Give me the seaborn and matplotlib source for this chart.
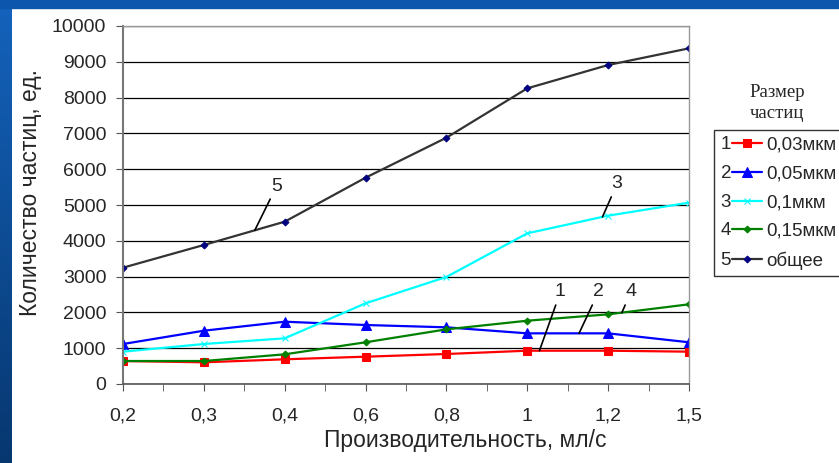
import numpy as np
import pandas as pd
import seaborn as sns
import matplotlib
matplotlib.use('Agg')
import matplotlib.pyplot as plt
from matplotlib.legend_handler import HandlerLine2D
from matplotlib.text import Text
from matplotlib.patches import Rectangle

# данные
categories = ['0,2', '0,3', '0,4', '0,6', '0,8', '1', '1,2', '1,5']
s1 = [642, 606, 690, 763, 838, 930, 930, 903]          # 0,03мкм
s2 = [1117, 1489, 1740, 1648, 1583, 1415, 1415, 1165]  # 0,05мкм
s3 = [903, 1117, 1276, 2254, 2990, 4209, 4702, 5065]   # 0,1мкм
s4 = [642, 642, 829, 1165, 1527, 1768, 1946, 2226]     # 0,15мкм
s5 = [3249, 3883, 4534, 5763, 6880, 8259, 8910, 9376]  # общее
labels = ['0,03мкм', '0,05мкм', '0,1мкм', '0,15мкм', 'общее']

sns.set_style('white')
plt.rcParams['font.family'] = ['Liberation Sans', 'DejaVu Sans']

pos = np.arange(len(categories))
df = pd.DataFrame({'pos': pos, 's1': s1, 's2': s2, 's3': s3, 's4': s4, 's5': s5})

fig = plt.figure(figsize=(8.39, 4.63), dpi=100)
ax = fig.add_axes([123 / 839, 1 - 384 / 463, (689 - 123) / 839, (384 - 26) / 463])

# синяя рамка слайда
fig.patches.append(Rectangle((0, 1 - 8 / 463), 1, 8 / 463, transform=fig.transFigure,
                             color='#0c56ad', zorder=0))
bg = fig.add_axes([0, 0, 12 / 839, 1 - 8 / 463])
grad = np.linspace(0, 1, 100).reshape(-1, 1)
bg.imshow(grad, aspect='auto', cmap=matplotlib.colors.LinearSegmentedColormap.from_list(
    'b', ['#1462bb', '#07376f']), extent=[0, 1, 0, 1])
bg.axis('off')

styles = [
    ('s1', '#ff0000', 's', 6),
    ('s2', '#0000ff', '^', 6.5),
    ('s3', '#00ffff', 'x', 4),
    ('s4', '#008000', 'D', 3.5),
    ('s5', '#333333', 'D', 3.5),
]
for (col, color, mk, ms), lab in zip(styles, labels):
    mfc = '#000080' if col == 's5' else color
    sns.lineplot(data=df, x='pos', y=col, ax=ax, color=color, marker=mk, markersize=ms,
                 markerfacecolor=mfc, markeredgecolor=mfc, linewidth=1.6, label=lab,
                 legend=False)

ax.set_xlim(0, len(categories) - 1)
ax.set_ylim(0, 10000)
ax.set_yticks(range(0, 10001, 1000))
ax.set_xticks(pos)
ax.set_xticklabels(categories)
ax.set_xticks(pos[:-1] + 0.5, minor=True)
ax.grid(axis='y', color='black', linewidth=0.9)
ax.set_axisbelow(True)
for side in ['top', 'right']:
    ax.spines[side].set_color('#999999')
    ax.spines[side].set_linewidth(1)
ax.spines['left'].set_color('#777777')
ax.spines['left'].set_linewidth(1.5)
ax.spines['bottom'].set_color('#555555')
ax.spines['bottom'].set_linewidth(1.2)
ax.tick_params(axis='both', which='both', direction='out', length=5, color='#555555',
               left=True, bottom=True, labelsize=14)
ax.tick_params(axis='x', pad=12)
ax.tick_params(axis='y', pad=7)
ax.set_xlabel('Производительность, мл/с', fontsize=16.5)
ax.set_ylabel('Количество частиц, ед.', fontsize=16.5)
ax.xaxis.label.set_va('center')
ax.xaxis.set_label_coords(0.604, -0.159)
ax.yaxis.label.set_va('center')
ax.yaxis.set_label_coords(-0.164, 0.534)

# подписи номеров кривых
def on_line(vals, p):
    return np.interp(p, pos, vals)

ann = [
    ('5', s5, 1.63, (1.90, 5530)),
    ('3', s3, 5.93, (6.11, 5590)),
    ('1', s1, 5.15, (5.41, 2570)),
    ('2', s2, 5.64, (5.88, 2570)),
    ('4', s4, 6.17, (6.28, 2570)),
]
for txt, vals, p, xyt in ann:
    ax.annotate(txt, xy=(p, on_line(vals, p)), xytext=xyt, fontsize=14, ha='center',
                va='center', arrowprops=dict(arrowstyle='-', color='black', lw=1.2,
                                             shrinkA=1, shrinkB=0))


class NumHandler(HandlerLine2D):
    def __init__(self, num, **kw):
        super().__init__(**kw)
        self.num = num

    def create_artists(self, legend, orig_handle, xdescent, ydescent, width, height,
                       fontsize, trans):
        nw = fontsize * 0.6
        arts = super().create_artists(legend, orig_handle, xdescent - nw, ydescent,
                                      width - nw, height, fontsize, trans)
        t = Text(-xdescent, (height - ydescent) / 2 - 1, self.num, fontsize=fontsize,
                 va='center', ha='left', transform=trans,
                 fontfamily=['Liberation Sans', 'DejaVu Sans'])
        return list(arts) + [t]


handles = ax.get_lines()[:5]
leg = fig.legend(handles, labels, loc='upper left', bbox_to_anchor=(714 / 839, 1 - 130 / 463),
                 numpoints=1, fontsize=13.5, frameon=True, fancybox=False, edgecolor='black',
                 borderpad=0.35, handlelength=2.2, handletextpad=0.25, labelspacing=0.62,
                 borderaxespad=0,
                 handler_map={h: NumHandler(str(i + 1)) for i, h in enumerate(handles)})
leg.get_frame().set_linewidth(1)

fig.text(777 / 839, 1 - 103 / 463, 'Размер\nчастиц', ha='center', va='center',
         fontsize=13.5, family='Liberation Serif', linespacing=1.35)

fig.savefig('out.png', dpi=100)
